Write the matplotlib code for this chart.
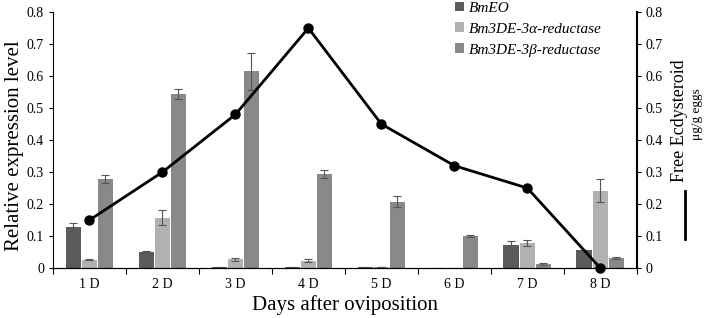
import matplotlib.pyplot as plt
import numpy as np

plt.rcParams['font.family'] = ['Liberation Serif', 'DejaVu Serif']

days = ['1 D', '2 D', '3 D', '4 D', '5 D', '6 D', '7 D', '8 D']

bmeo = [0.128, 0.050, 0.003, 0.003, 0.002, 0.001, 0.072, 0.055]
bmeo_err = [0.012, 0.003, 0.001, 0.001, 0.0, 0.0, 0.013, 0.0]
alpha = [0.026, 0.158, 0.027, 0.023, 0.003, 0.001, 0.078, 0.242]
alpha_err = [0.002, 0.022, 0.006, 0.005, 0.0, 0.0, 0.010, 0.035]
beta = [0.279, 0.544, 0.615, 0.293, 0.208, 0.100, 0.013, 0.032]
beta_err = [0.012, 0.016, 0.057, 0.013, 0.016, 0.003, 0.002, 0.004]

ecdysteroid = [0.15, 0.30, 0.48, 0.75, 0.45, 0.32, 0.25, 0.0]

fig = plt.figure(figsize=(7.06, 3.18), dpi=100)
ax = fig.add_axes([0.075, 0.157, 0.827, 0.805])

x = np.arange(len(days))
w = 0.22
ekw = dict(ecolor='#555555', elinewidth=0.8, capsize=3, capthick=0.8)
ax.bar(x - w, bmeo, w * 0.97, yerr=bmeo_err, color='#5b5b5b', label='BmEO', error_kw=ekw)
ax.bar(x, alpha, w * 0.97, yerr=alpha_err, color='#b1b1b1', label='Bm3DE-3α-reductase', error_kw=ekw)
ax.bar(x + w, beta, w * 0.97, yerr=beta_err, color='#898989', label='Bm3DE-3β-reductase', error_kw=ekw)

ax.set_xlim(-0.5, len(days) - 0.5)
ax.set_ylim(0, 0.8)
ax.set_yticks(np.arange(0, 0.81, 0.1))
ax.set_yticklabels(['0'] + ['%.1f' % v for v in np.arange(0.1, 0.81, 0.1)], fontsize=10)
ax.set_xticks(np.arange(-0.5, len(days)), minor=False)
ax.set_xticklabels([])
ax.set_xticks(x, minor=True)
ax.set_xticklabels(days, minor=True, fontsize=10)
ax.tick_params(axis='x', which='minor', length=0, pad=7)
ax.tick_params(axis='x', which='major', length=4, direction='out')
ax.tick_params(axis='y', length=3, direction='out')
ax.spines['top'].set_visible(False)
ax.spines['right'].set_visible(False)
ax.set_ylabel('Relative expression level', fontsize=15)
ax.yaxis.set_label_coords(-0.05, 0.48)
ax.set_xlabel('Days after oviposition', fontsize=15, labelpad=3)

ax.legend(loc='upper left', bbox_to_anchor=(0.665, 1.095), frameon=False,
          prop={'style': 'italic', 'size': 11}, handlelength=0.6, handleheight=0.6,
          handletextpad=0.3, labelspacing=0.5)

ax2 = ax.twinx()
ax2.plot(x, ecdysteroid, color='black', lw=2, marker='o', ms=6.5, clip_on=False, zorder=5)
ax2.set_ylim(0, 0.8)
ax2.set_yticks(np.arange(0, 0.81, 0.1))
ax2.set_yticklabels(['0'] + ['%.1f' % v for v in np.arange(0.1, 0.81, 0.1)], fontsize=10)
ax2.tick_params(axis='y', length=3, direction='out')
ax2.spines['top'].set_visible(False)
ax2.spines['left'].set_visible(False)
ax2.spines['right'].set_linewidth(1.5)

fig.text(0.963, 0.62, 'Free Ecdysteroid', rotation=90, fontsize=13, ha='center', va='center')
fig.text(0.987, 0.64, 'μg/g eggs', rotation=90, fontsize=9.5, ha='center', va='center')
fig.add_artist(plt.Line2D([0.97, 0.97], [0.25, 0.40], color='black', lw=2))

fig.savefig('out.png', dpi=100)
